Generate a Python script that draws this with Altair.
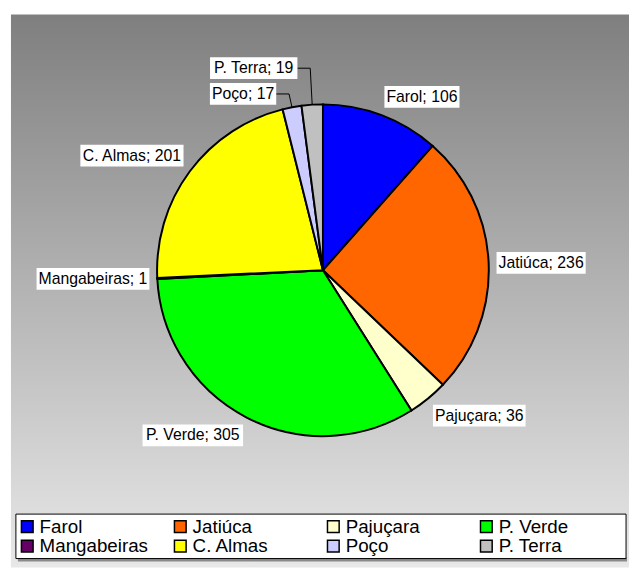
import math
import altair as alt
import pandas as pd

# ---- data ----
categories = ["Farol", "Jatiúca", "Pajuçara", "P. Verde", "Mangabeiras", "C. Almas", "Poço", "P. Terra"]
values = [106, 236, 36, 305, 1, 201, 17, 19]
colors = ["#0000FF", "#FF6600", "#FFFFCC", "#00FF00", "#660066", "#FFFF00", "#CCCCFF", "#C0C0C0"]

# ---- layout (page pixel coordinates) ----
W, H = 629, 563
OX, OY = 8, 8
CX, CY, R = 327, 270, 168
GAP = 8
FONT = "Liberation Sans"
LABEL_SIZE = 16
BOX_H = 22
# labels moved off the slice and joined with a leader line: offset of box right-middle from slice edge
LEADER = {"Poço": (-16, -13.5), "P. Terra": (-15, -37)}

AW = {' ': 278, ';': 278, '.': 278, 'A': 667, 'C': 722, 'F': 611, 'J': 500, 'M': 833, 'P': 667,
      'T': 611, 'V': 667, 'a': 556, 'b': 556, 'c': 500, 'ç': 500, 'd': 556, 'e': 556, 'g': 556,
      'i': 222, 'j': 222, 'l': 222, 'm': 833, 'n': 556, 'o': 556, 'r': 333, 's': 500, 't': 278,
      'u': 556, 'ú': 556}


def text_width(s, size):
    return sum(AW.get(ch, 556) for ch in s) * size / 1000.0


total = sum(values)
pie_df = pd.DataFrame({"category": categories, "value": values, "idx": list(range(len(values)))})

lab_rows, line_rows = [], []
cum = 0
for cat, v in zip(categories, values):
    mid = (cum + v / 2) / total * 2 * math.pi
    cum += v
    s, c = math.sin(mid), math.cos(mid)
    ex, ey = CX + R * s, CY - R * c
    text = f"{cat}; {v}"
    w = text_width(text, LABEL_SIZE) + 4
    if cat in LEADER:
        dx, dy = LEADER[cat]
        rx, ry = ex + dx, ey + dy
        x1, x2 = rx - w, rx
        y1, y2 = ry - BOX_H / 2, ry + BOX_H / 2
        elbow = rx + 13
        for k, (lx, ly) in enumerate([(rx, ry), (elbow, ry), (ex, ey)]):
            line_rows.append({"category": cat, "seq": k, "x": lx, "y": ly})
    else:
        px, py = CX + (R + GAP) * s, CY - (R + GAP) * c
        if s >= 0:
            x1, x2 = px, px + w
        else:
            x1, x2 = px - w, px
        if abs(c) < 0.3:
            y1, y2 = py - BOX_H / 2, py + BOX_H / 2
        elif c > 0:
            y1, y2 = py - BOX_H, py
        else:
            y1, y2 = py, py + BOX_H
    lab_rows.append({"category": cat, "text": text, "x1": x1, "x2": x2, "y1": y1, "y2": y2,
                     "xc": (x1 + x2) / 2, "yc": (y1 + y2) / 2})

lab_df = pd.DataFrame(lab_rows)
line_df = pd.DataFrame(line_rows)

xs = alt.Scale(domain=[OX, OX + W], range=[0, W])
ys = alt.Scale(domain=[OY, OY + H], range=[0, H])

one = pd.DataFrame({"a": [0]})

bg = alt.Chart(one).mark_rect(
    fill=alt.LinearGradient(
        gradient="linear",
        stops=[alt.GradientStop(color="#7f7f7f", offset=0),
               alt.GradientStop(color="#e8e8e8", offset=1)],
        x1=0, x2=0, y1=0, y2=1),
).encode(x=alt.value(11 - OX), x2=alt.value(W), y=alt.value(11 - OY), y2=alt.value(H))

shadow = alt.Chart(one).mark_rect(fill="#8a8a8a").encode(
    x=alt.value(18 - OX), x2=alt.value(635 - OX), y=alt.value(561 - OY), y2=alt.value(565 - OY))

legend_box = alt.Chart(one).mark_rect(fill="white", stroke="black", strokeWidth=1).encode(
    x=alt.value(16 - OX), x2=alt.value(634 - OX), y=alt.value(517 - OY), y2=alt.value(562 - OY))

pie = alt.Chart(pie_df).mark_arc(radius=R, stroke="black", strokeWidth=2).encode(
    theta=alt.Theta("value:Q", stack=True),
    color=alt.Color(
        "category:N",
        scale=alt.Scale(domain=categories, range=colors),
        legend=alt.Legend(
            orient="none", legendX=18 - OX, legendY=520 - OY, columns=4, direction="horizontal",
            title=None,
            symbolType="square", symbolSize=140, symbolStrokeColor="black", symbolStrokeWidth=1.5,
            labelFont=FONT, labelFontSize=19, labelColor="black", labelOffset=3,
            padding=0, columnPadding=23, rowPadding=0, gridAlign="all",
        ),
    ),
    order=alt.Order("idx:Q"),
    x=alt.value(CX - OX),
    y=alt.value(CY - OY),
)

lines = alt.Chart(line_df).mark_line(color="black", strokeWidth=1).encode(
    x=alt.X("x:Q", scale=xs, axis=None),
    y=alt.Y("y:Q", scale=ys, axis=None),
    detail="category:N",
    order="seq:Q",
)

boxes = alt.Chart(lab_df).mark_rect(fill="white").encode(
    x=alt.X("x1:Q", scale=xs, axis=None), x2="x2:Q",
    y=alt.Y("y1:Q", scale=ys, axis=None), y2="y2:Q",
)

texts = alt.Chart(lab_df).mark_text(font=FONT, fontSize=LABEL_SIZE, color="black",
                                    align="center", baseline="middle").encode(
    x=alt.X("xc:Q", scale=xs, axis=None),
    y=alt.Y("yc:Q", scale=ys, axis=None),
    text="text:N",
)

chart = alt.layer(bg, shadow, legend_box, pie, lines, boxes, texts).properties(
    width=W, height=H, padding=0, autosize=alt.AutoSizeParams(type="none"),
    background="white",
).configure_view(stroke=None)

chart.save("out.html", embed_options={"renderer": "svg", "actions": False})
